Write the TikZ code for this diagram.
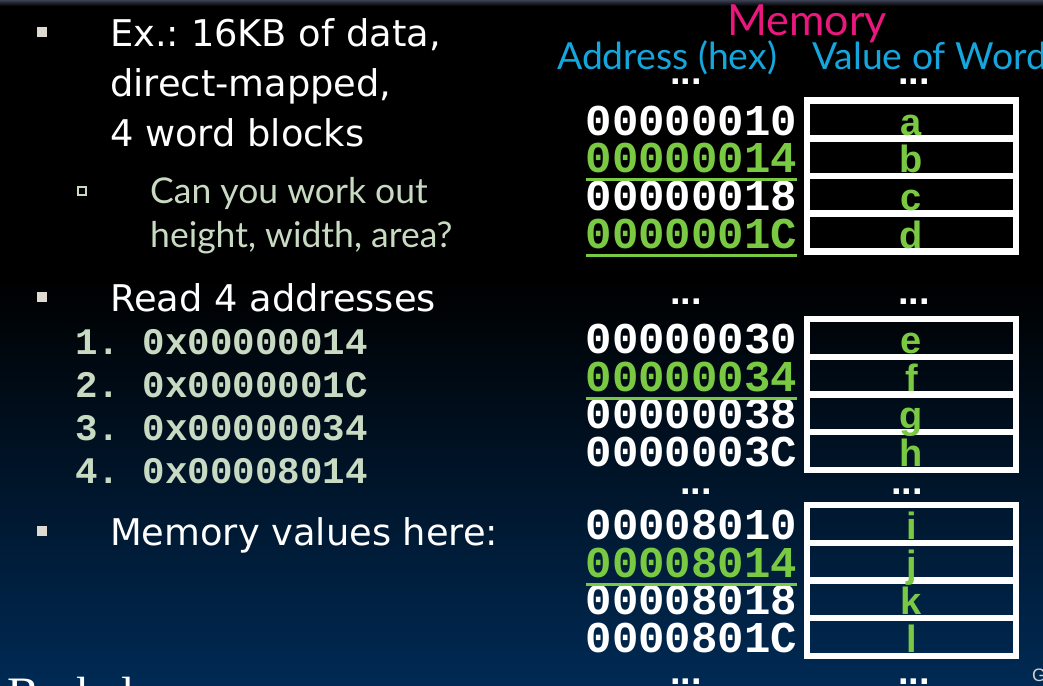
\documentclass[tikz,border=0pt]{standalone}
\usepackage{fontspec}
\usepackage{xcolor}
\usepackage{tikz}
\usetikzlibrary{positioning}

\setmainfont{DejaVu Sans}
\newfontfamily\geofont{Lato}
\newfontfamily\codefont{Liberation Mono}
\newfontfamily\cellfont{Liberation Sans}
\newfontfamily\logofont{Liberation Serif}

\definecolor{slidenavy}{RGB}{0,42,84}
\definecolor{topedge}{RGB}{58,64,82}
\definecolor{memgreen}{RGB}{122,201,67}
\definecolor{sage}{RGB}{200,218,194}
\definecolor{hdrcyan}{RGB}{20,166,220}
\definecolor{hdrpink}{RGB}{232,24,124}
\definecolor{bulletgray}{RGB}{222,218,210}

\begin{document}
\begin{tikzpicture}[x=1pt, y=-1pt,
  txt/.style={text=white, inner sep=0pt, anchor=base west, font=\fontsize{36.8}{36.8}\selectfont\frenchspacing},
  ask/.style={text=sage, inner sep=0pt, anchor=base west, font=\geofont\fontsize{35.5}{35.5}\selectfont},
  code/.style={text=sage, inner sep=0pt, anchor=base west, font=\codefont\bfseries\fontsize{37.5}{37.5}\selectfont\frenchspacing},
  sq/.style={fill=bulletgray, minimum size=10.5pt, inner sep=0pt},
  hdr/.style={text=hdrcyan, inner sep=0pt, anchor=base west, font=\geofont\fontsize{37.3}{37.3}\selectfont},
  ellip/.style={text=white, inner sep=0pt, anchor=base, font=\cellfont\bfseries\fontsize{38}{38}\selectfont},
  cell/.style={draw=white, line width=6.5pt, minimum width=209pt, minimum height=37.7pt, inner sep=0pt, outer sep=0pt,
    text height=31.2pt, text depth=0pt, text=memgreen, font=\cellfont\bfseries\fontsize{38}{38}\selectfont},
  addr/.style={minimum height=37.7pt, inner sep=0pt, outer sep=0pt, text height=31.2pt, text depth=0pt,
    text=white, font=\codefont\bfseries\fontsize{44}{44}\selectfont},
  hit/.style={addr, text=memgreen},
  uline/.style={draw=memgreen, line width=3pt}
]
\useasboundingbox (0,0) rectangle (1043,685);
\clip (0,0) rectangle (1043,685);

% slide background
\fill[black] (0,0) rectangle (1043,685);
\shade[top color=black, bottom color=slidenavy] (0,280) rectangle (1043,685);
\shade[top color=topedge, bottom color=black] (0,0) rectangle (1043,6);

% left column
\node[sq] (b1) at (42,32) {};
\node[txt] (ex1) at (110,47) {Ex.: 16KB of data,};
\node[txt] (ex2) at ([yshift=-49pt]ex1.base west) {direct-mapped,};
\node[txt] (ex3) at ([yshift=-50pt]ex2.base west) {4 word blocks};
\node[draw=sage, line width=1.3pt, minimum size=8pt, inner sep=0pt] (b1a) at (82,191) {};
\node[ask] (q1) at (150,203) {Can you work out};
\node[ask] (q2) at ([yshift=-44pt]q1.base west) {height, width, area?};
\node[sq] (b2) at (42,297) {};
\node[txt] (rd) at (110,311) {Read 4 addresses};
\node[code] (r1) at (75,354) {1. 0x00000014};
\node[code] (r2) at ([yshift=-43pt]r1.base west) {2. 0x0000001C};
\node[code] (r3) at ([yshift=-43pt]r2.base west) {3. 0x00000034};
\node[code] (r4) at ([yshift=-43pt]r3.base west) {4. 0x00008014};
\node[sq] (b3) at (42,531) {};
\node[txt] (mv) at (110,545) {Memory values here:};
\node[inner sep=0pt, anchor=base west, text=white, font=\logofont\fontsize{48}{48}\selectfont] (logo) at (7,710) {Berkeley};
\node[inner sep=0pt, anchor=base west, text=gray!35!white, font=\cellfont\fontsize{18}{18}\selectfont] (foot) at (1032,681) {G};

% memory headers
\node[inner sep=0pt, anchor=base, text=hdrpink, font=\geofont\fontsize{43}{43}\selectfont] (mem) at (807,36) {Memory};
\node[hdr] (hadr) at (557,70) {Address (hex)};
\node[hdr] (hval) at (812,70) {Value of Word};

% first block
\node[cell] (cd) at (911.5,232.5) {d};
\node[cell, above=0pt of cd] (cc) {c};
\node[cell, above=0pt of cc] (cb) {b};
\node[cell, above=0pt of cb] (ca) {a};
\node[addr, left=10pt of ca] (ad10) {00000010};
\node[hit, left=10pt of cb] (ad14) {00000014};
\node[addr, left=10pt of cc] (ad18) {00000018};
\node[hit, left=10pt of cd] (ad1C) {0000001C};

% second block
\node[cell] (ch) at (911.5,451) {h};
\node[cell, above=0pt of ch] (cg) {g};
\node[cell, above=0pt of cg] (cf) {f};
\node[cell, above=0pt of cf] (ce) {e};
\node[addr, left=10pt of ce] (ad30) {00000030};
\node[hit, left=10pt of cf] (ad34) {00000034};
\node[addr, left=10pt of cg] (ad38) {00000038};
\node[addr, left=10pt of ch] (ad3C) {0000003C};

% third block
\node[cell] (cl) at (911.5,637) {l};
\node[cell, above=0pt of cl] (ck) {k};
\node[cell, above=0pt of ck] (cj) {j};
\node[cell, above=0pt of cj] (ci) {i};
\node[addr, left=10pt of ci] (ad8010) {00008010};
\node[hit, left=10pt of cj] (ad8014) {00008014};
\node[addr, left=10pt of ck] (ad8018) {00008018};
\node[addr, left=10pt of cl] (ad801C) {0000801C};

% underlines of the words that are read
\draw[uline] ([yshift=-4pt]ad14.south west) -- ([yshift=-4pt]ad14.south east);
\draw[uline] ([yshift=-4pt]ad1C.south west) -- ([yshift=-4pt]ad1C.south east);
\draw[uline] ([yshift=-4pt]ad34.south west) -- ([yshift=-4pt]ad34.south east);
\draw[uline] ([yshift=-4pt]ad8014.south west) -- ([yshift=-4pt]ad8014.south east);

% gaps in memory
\node[ellip] (g1a) at (686,84) {...};
\node[ellip] (g1v) at (914,84) {...};
\node[ellip] (g2a) at (686,304) {...};
\node[ellip] (g2v) at (914,304) {...};
\node[ellip] (g3a) at (696,494) {...};
\node[ellip] (g3v) at (907,494) {...};
\node[ellip] (g4a) at (686,684) {...};
\node[ellip] (g4v) at (914,684) {...};
\end{tikzpicture}
\end{document}
